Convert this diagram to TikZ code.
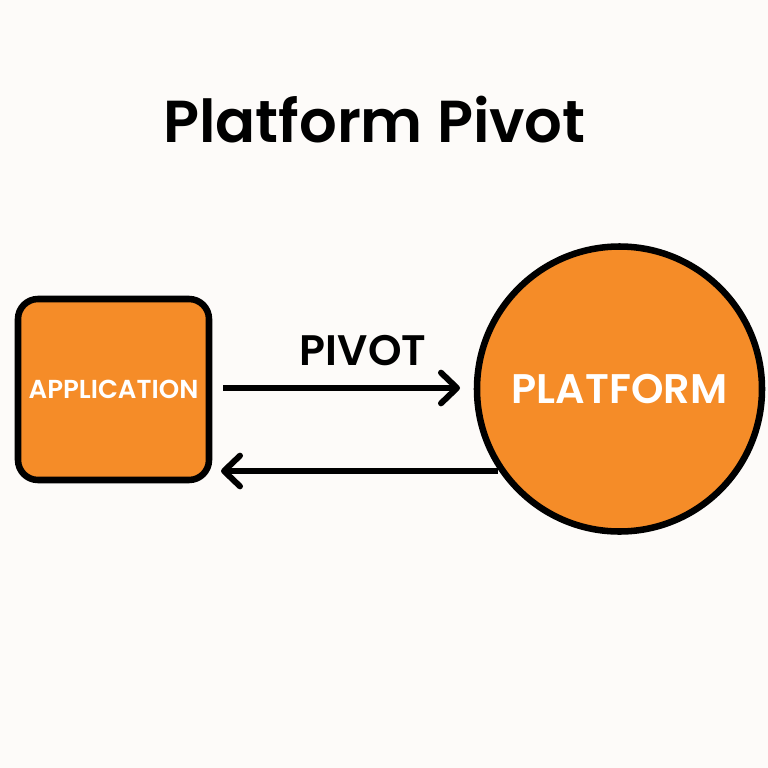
\documentclass[tikz,border=0pt]{standalone}
\usepackage{fontspec}
\setmainfont[BoldFont={Poppins SemiBold}]{Poppins}
\usetikzlibrary{arrows.meta}
\definecolor{pagebg}{HTML}{FDFBF9}
\definecolor{boxorange}{HTML}{F58C28}
\tikzset{
  shapeline/.style={draw=black, line width=4.9pt, fill=boxorange, text=white},
  arrowline/.style={draw=black, line width=4.5pt, -{Straight Barb[length=12pt,width=23pt,line width=4.5pt,round]}},
}
\begin{document}
\begin{tikzpicture}[x=1pt,y=-1pt]
    \def \s {0.75}

    \fill[pagebg] (0,0) rectangle (768*\s,768*\s);
    \useasboundingbox (0,0) rectangle (768*\s,768*\s);

    \node[font=\fontsize{44.4}{44.4}\selectfont\bfseries] (title) at (374.5*\s,120*\s) {Platform Pivot};

    \node[shapeline, rounded corners=15pt, minimum width=191*\s pt, minimum height=181*\s pt, inner sep=0pt,
          font=\fontsize{19.5}{19.5}\selectfont\bfseries] (application) at (113.5*\s,389.5*\s) {APPLICATION};
    \node[shapeline, circle, minimum size=285*\s pt, inner sep=0pt,
          font=\fontsize{31}{31}\selectfont\bfseries] (platform) at (619.5*\s,389*\s) {PLATFORM};

    \node[font=\fontsize{32}{32}\selectfont\bfseries] (pivot) at (363*\s,351*\s) {PIVOT};

    \coordinate (a1) at (223*\s,388*\s);
    \coordinate (p1) at (460*\s,388*\s);
    \coordinate (p2) at (498*\s,471*\s);
    \coordinate (a2) at (221*\s,471*\s);

    \draw[arrowline] (a1) -- (p1);
    \draw[arrowline] (p2) -- (a2);
\end{tikzpicture}
\end{document}
